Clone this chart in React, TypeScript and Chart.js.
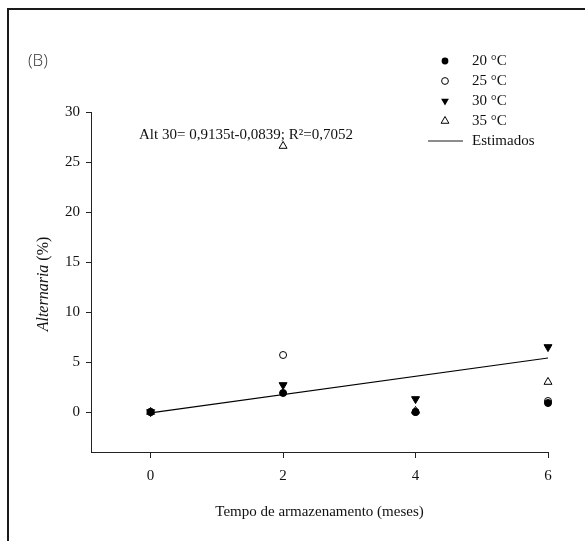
import React, { useEffect, useRef } from 'react';
import { Chart, registerables } from 'chart.js';

Chart.register(...registerables);

// ---- data ----
const months = [0, 2, 4, 6];
const t20 = [0, 1.9, 0, 0.9];
const t25 = [0, 5.7, 0, 1.1];
const t30 = [0, 2.7, 1.3, 6.5];
const t35 = [0, 26.6, 0.1, 3.0];
const estX = [0, 6];
const estY = [-0.08, 5.4];
const xTicks = [0, 2, 4, 6];
const yTicks = [0, 5, 10, 15, 20, 25, 30];
const legendLabels = ['20 °C', '25 °C', '30 °C', '35 °C', 'Estimados'];
const equation = 'Alt 30= 0,9135t-0,0839; R²=0,7052';
const panelLabel = '(B)';
const xTitle = 'Tempo de armazenamento (meses)';
const yTitleItalic = 'Alternaria';
const yTitleRest = ' (%)';

const SERIF = '"Liberation Serif", "Times New Roman", serif';
const INK = '#111';

type Marker = 'dot' | 'ring' | 'down' | 'up';
const markers: Marker[] = ['dot', 'ring', 'down', 'up'];

function drawMarker(ctx: CanvasRenderingContext2D, kind: Marker, x: number, y: number) {
  ctx.save();
  ctx.lineWidth = 1;
  ctx.strokeStyle = '#000';
  ctx.fillStyle = '#000';
  ctx.beginPath();
  if (kind === 'dot' || kind === 'ring') {
    ctx.arc(x, y, 3.4, 0, Math.PI * 2);
  } else {
    const r = 4.5;
    const dir = kind === 'up' ? -1 : 1;
    ctx.moveTo(x, y + dir * r);
    ctx.lineTo(x + r * 0.866, y - dir * r * 0.5);
    ctx.lineTo(x - r * 0.866, y - dir * r * 0.5);
    ctx.closePath();
  }
  if (kind === 'dot' || kind === 'down') ctx.fill();
  else ctx.stroke();
  ctx.restore();
}

const overlay = {
  id: 'overlay',
  afterDraw(chart: any) {
    const ctx: CanvasRenderingContext2D = chart.ctx;
    ctx.save();
    // panel label
    ctx.fillStyle = '#333';
    ctx.font = '300 17px "Open Sans", sans-serif';
    ctx.textAlign = 'left';
    ctx.textBaseline = 'middle';
    ctx.fillText(panelLabel, 28, 61);

    // equation
    ctx.fillStyle = INK;
    ctx.font = `15px ${SERIF}`;
    ctx.fillText(equation, 139, 135);

    // legend
    const rows = [61, 81, 101, 121, 141];
    legendLabels.forEach((lab, i) => {
      const y = rows[i];
      if (i < markers.length) {
        drawMarker(ctx, markers[i], 445, y);
      } else {
        ctx.save();
        ctx.strokeStyle = '#666';
        ctx.lineWidth = 1.5;
        ctx.beginPath();
        ctx.moveTo(428, y);
        ctx.lineTo(463, y);
        ctx.stroke();
        ctx.restore();
      }
      ctx.fillStyle = INK;
      ctx.font = `15px ${SERIF}`;
      ctx.textAlign = 'left';
      ctx.textBaseline = 'middle';
      ctx.fillText(lab, 472, y);
    });

    // y title (mixed italic / normal)
    ctx.save();
    ctx.translate(44, 284);
    ctx.rotate(-Math.PI / 2);
    ctx.font = `italic 16px ${SERIF}`;
    const w1 = ctx.measureText(yTitleItalic).width;
    ctx.font = `16px ${SERIF}`;
    const w2 = ctx.measureText(yTitleRest).width;
    const start = -(w1 + w2) / 2;
    ctx.textAlign = 'left';
    ctx.textBaseline = 'middle';
    ctx.fillStyle = INK;
    ctx.font = `italic 16px ${SERIF}`;
    ctx.fillText(yTitleItalic, start, 0);
    ctx.font = `16px ${SERIF}`;
    ctx.fillText(yTitleRest, start + w1, 0);
    ctx.restore();

    ctx.restore();
  },
};

const pts = (ys: number[]) => months.map((m, i) => ({ x: m, y: ys[i] }));

export default function App() {
  const ref = useRef<HTMLCanvasElement | null>(null);
  useEffect(() => {
    if (!ref.current) return;
    const chart = new Chart(ref.current, {
      type: 'scatter',
      data: {
        datasets: [
          {
            label: 'Estimados',
            type: 'line',
            data: estX.map((x, i) => ({ x, y: estY[i] })),
            borderColor: '#000',
            borderWidth: 1.2,
            pointRadius: 0,
            fill: false,
            clip: false,
            order: 5,
          } as any,
          { label: legendLabels[0], data: pts(t20), pointStyle: 'circle', pointRadius: 3.5, backgroundColor: '#000', borderColor: '#000', borderWidth: 1, clip: false, order: 1 } as any,
          { label: legendLabels[1], data: pts(t25), pointStyle: 'circle', pointRadius: 3.5, backgroundColor: '#fff', borderColor: '#000', borderWidth: 1, clip: false, order: 2 } as any,
          { label: legendLabels[2], data: pts(t30), pointStyle: 'triangle', rotation: 180, pointRadius: 4.6, backgroundColor: '#000', borderColor: '#000', borderWidth: 1, clip: false, order: 3 } as any,
          { label: legendLabels[3], data: pts(t35), pointStyle: 'triangle', pointRadius: 4.6, backgroundColor: 'rgba(255,255,255,0)', borderColor: '#000', borderWidth: 1, clip: false, order: 4 } as any,
        ],
      },
      options: {
        animation: false,
        responsive: false,
        devicePixelRatio: 1,
        layout: { padding: { top: 112, right: 37, left: 0, bottom: 0 } },
        plugins: { legend: { display: false }, tooltip: { enabled: false } },
        scales: {
          x: {
            type: 'linear',
            min: -0.9,
            max: 6,
            afterBuildTicks: (s: any) => { s.ticks = xTicks.map((v) => ({ value: v })); },
            afterFit: (s: any) => { s.height = 89; },
            grid: { drawOnChartArea: false, drawTicks: true, tickLength: 6, color: '#222' },
            border: { display: true, color: '#222', width: 1 },
            ticks: { padding: 9, color: INK, font: { family: SERIF, size: 15 } },
            title: { display: true, text: xTitle, color: INK, font: { family: SERIF, size: 15 }, padding: { top: 0, bottom: 20 } },
          },
          y: {
            type: 'linear',
            min: -4,
            max: 30,
            afterBuildTicks: (s: any) => { s.ticks = yTicks.map((v) => ({ value: v })); },
            afterFit: (s: any) => { s.width = 91; },
            grid: { drawOnChartArea: false, drawTicks: true, tickLength: 5, color: '#222' },
            border: { display: true, color: '#222', width: 1 },
            ticks: { padding: 6, color: INK, font: { family: SERIF, size: 15 } },
          },
        },
      },
      plugins: [overlay],
    });
    return () => chart.destroy();
  }, []);

  return (
    <div style={{ position: 'absolute', left: 0, top: 0, width: 585, height: 541, background: '#fff', overflow: 'hidden' }}>
      <canvas ref={ref} width={585} height={541} style={{ display: 'block', position: 'absolute', left: 0, top: 0 }} />
      <div style={{ position: 'absolute', left: 7, top: 8, width: 700, height: 700, borderLeft: '2px solid #1a1a1a', borderTop: '2px solid #1a1a1a', pointerEvents: 'none' }} />
    </div>
  );
}
